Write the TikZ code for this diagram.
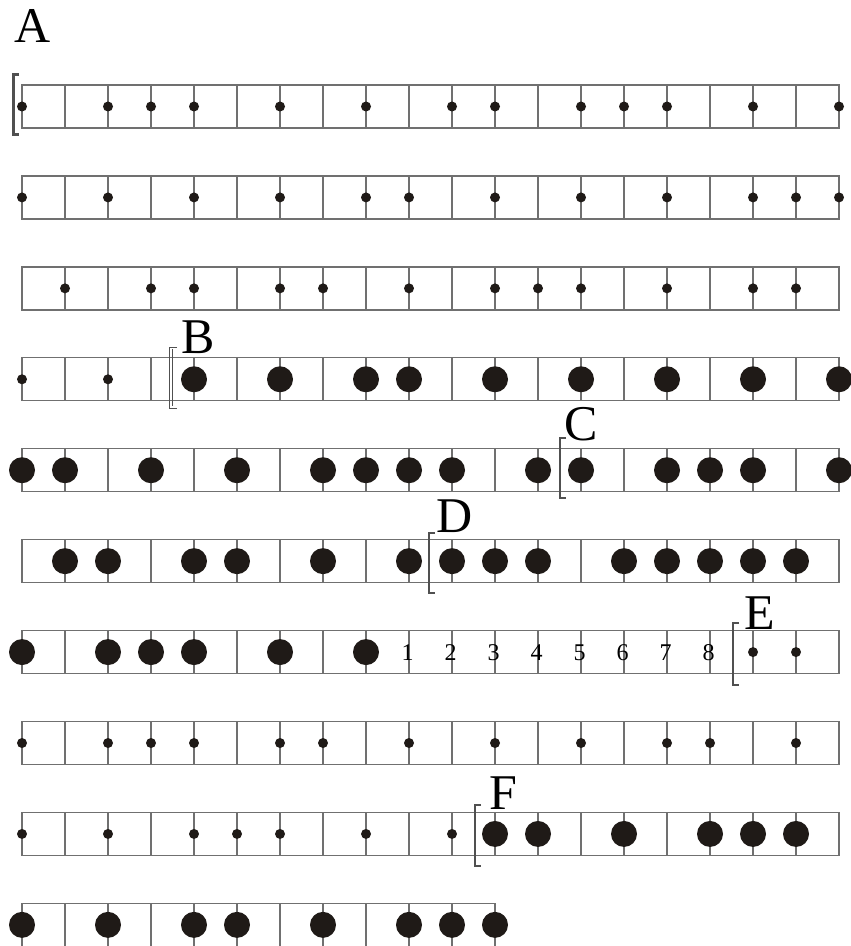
\documentclass[tikz,border=0pt]{standalone}
\usepackage{fontspec}
\setmainfont{Liberation Serif}
\definecolor{gridc}{HTML}{707070}
\definecolor{dotc}{HTML}{1F1A17}
\definecolor{brc}{HTML}{505050}
\newcommand\myrow[2]{% #1 row index, #2 last column index
  \pgfmathsetmacro\yt{85+90.93*(#1-1)}%
  \draw[gridline] (22,\yt) rectangle ({22+43*#2},{\yt+43});
  \foreach \k in {1,...,#2} \draw[gridline] ({22+43*\k},\yt) -- ({22+43*\k},{\yt+43});
}
\newcommand\mydots[4]{% #1 row, #2 style, #3 prefix, #4 list
  \pgfmathsetmacro\yc{85+90.93*(#1-1)+21.5}%
  \foreach \k in {#4} \node[#2] (r#1#3\k) at ({22+43*\k},\yc) {};
}
\begin{document}
\begin{tikzpicture}[x=0.5pt,y=-0.5pt,
  gridline/.style={draw=gridc,line width=0.65pt},
  smalldot/.style={circle,fill=dotc,inner sep=0pt,minimum size=5pt},
  bigdot/.style={circle,fill=dotc,inner sep=0pt,minimum size=13pt},
  bracketline/.style={draw=brc,line width=1pt},
  letter/.style={font=\fontsize{25}{25}\selectfont,inner sep=0pt,anchor=base west},
  num/.style={font=\fontsize{12}{12}\selectfont,inner sep=0pt}
]
\useasboundingbox (0,0) rectangle (850,946);

% grids
\myrow{1}{19}
\myrow{2}{19}
\myrow{3}{19}
\myrow{4}{19}
\myrow{5}{19}
\myrow{6}{19}
\myrow{7}{19}
\myrow{8}{19}
\myrow{9}{19}
\myrow{10}{11}

% dots
\mydots{1}{smalldot}{s}{0,2,3,4,6,8,10,11,13,14,15,17,19}
\mydots{2}{smalldot}{s}{0,2,4,6,8,9,11,13,15,17,18,19}
\mydots{3}{smalldot}{s}{1,3,4,6,7,9,11,12,13,15,17,18}
\mydots{4}{smalldot}{s}{0,2}
\mydots{4}{bigdot}{b}{4,6,8,9,11,13,15,17,19}
\mydots{5}{bigdot}{b}{0,1,3,5,7,8,9,10,12,13,15,16,17,19}
\mydots{6}{bigdot}{b}{1,2,4,5,7,9,10,11,12,14,15,16,17,18}
\mydots{7}{bigdot}{b}{0,2,3,4,6,8}
\mydots{7}{smalldot}{s}{17,18}
\mydots{8}{smalldot}{s}{0,2,3,4,6,7,9,11,13,15,16,18}
\mydots{9}{smalldot}{s}{0,2,4,5,6,8,10}
\mydots{9}{bigdot}{b}{11,12,14,16,17,18}
\mydots{10}{bigdot}{b}{0,2,4,5,7,9,10,11}

% numbers in row 7
\foreach \n [count=\i from 9] in {1,...,8}
  \node[num] (n\n) at ({22+43*\i-1.5},652.5) {\n};

% brackets
\draw[draw=brc,line width=1.5pt] (19,75) -- (13,75) -- (13,135) -- (19,135);
\draw[draw=brc,line width=0.5pt] (177,347) -- (169.5,347) -- (169.5,408) -- (177,408);
\draw[draw=brc,line width=0.5pt] (172.5,349) -- (172.5,406);
\draw[bracketline] (566,438) -- (560,438) -- (560,498) -- (566,498);
\draw[bracketline] (435,533) -- (429,533) -- (429,593) -- (435,593);
\draw[bracketline] (739,623) -- (733,623) -- (733,685) -- (739,685);
\draw[bracketline] (481,805) -- (475,805) -- (475,866) -- (481,866);

% letters
\node[letter] (A) at (14,43) {A};
\node[letter] (B) at (181,353) {B};
\node[letter] (C) at (564,440) {C};
\node[letter] (D) at (436,532) {D};
\node[letter] (E) at (744,629) {E};
\node[letter] (F) at (489,809) {F};
\end{tikzpicture}
\end{document}
